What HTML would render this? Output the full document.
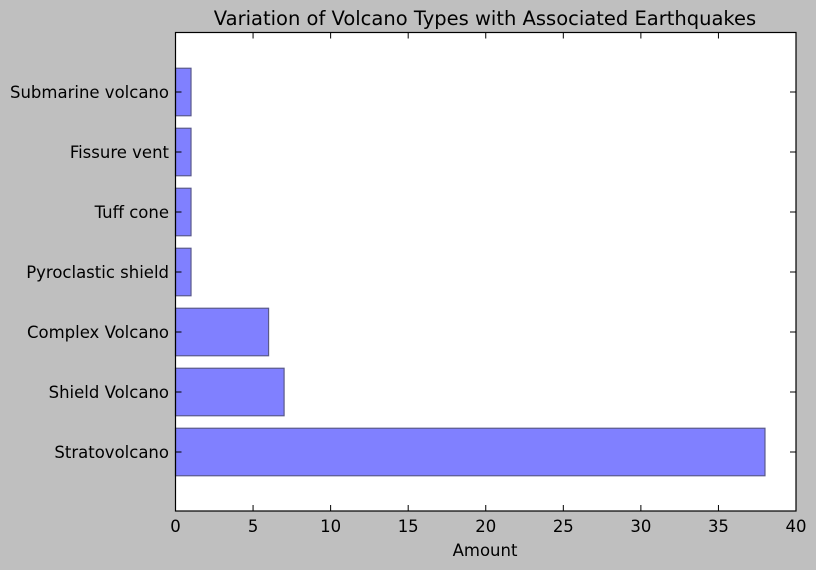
<!DOCTYPE html>
<html><head><meta charset="utf-8">
<style>
body{margin:0;background:#bfbfbf;}
svg{display:block;font-family:"DejaVu Sans","Liberation Sans",sans-serif;}
</style></head>
<body>
<svg id="chart" width="816" height="570" xmlns="http://www.w3.org/2000/svg">
<rect x="0" y="0" width="816" height="570" fill="#bfbfbf"/>
<rect x="175.5" y="32.5" width="620.5" height="478.5" fill="#ffffff"/>
<g id="bars"></g>
<g id="ticks"></g>
<rect x="175.5" y="32.5" width="620.5" height="478.5" fill="none" stroke="#000" stroke-width="1.2"/>
<text x="485" y="25" text-anchor="middle" font-size="19.5" fill="#000">Variation of Volcano Types with Associated Earthquakes</text>
<text x="485" y="556" text-anchor="middle" font-size="16.5" fill="#000">Amount</text>
</svg>
<script>
const categories = ["Stratovolcano","Shield Volcano","Complex Volcano","Pyroclastic shield","Tuff cone","Fissure vent","Submarine volcano"];
const amounts = [38,7,6,1,1,1,1];
const xTicks = [0,5,10,15,20,25,30,35,40];

const X0=175.5, X1=796, XMAX=40;
const x = v => X0 + (X1-X0)*v/XMAX;
const yc = i => 452 - 60*i;
const BH = 47.5;
const NS="http://www.w3.org/2000/svg";
const bars=document.getElementById('bars');
const ticks=document.getElementById('ticks');
function mk(tag,attrs,parent){const e=document.createElementNS(NS,tag);for(const k in attrs)e.setAttribute(k,attrs[k]);parent.appendChild(e);return e;}

categories.forEach((c,i)=>{
  const r=mk('rect',{x:x(0),y:yc(i)-BH/2,width:x(amounts[i])-x(0),height:BH,fill:'#8080ff',stroke:'#5a5a8a','stroke-width':1.2},bars);
  
  
  const t1=mk('line',{x1:X0,x2:X0+6,y1:yc(i),y2:yc(i),stroke:'#000'},ticks);
  
  
  const t2=mk('line',{x1:X1,x2:X1-6,y1:yc(i),y2:yc(i),stroke:'#000'},ticks);
  
  
  const l=mk('text',{x:169,y:yc(i)+6,'text-anchor':'end','font-size':16.5,fill:'#000'},ticks);
  l.textContent=c;
  
  
});
xTicks.forEach(v=>{
  const a=mk('line',{x1:x(v),x2:x(v),y1:511,y2:505,stroke:'#000'},ticks);
  
  
  const b=mk('line',{x1:x(v),x2:x(v),y1:32.5,y2:38.5,stroke:'#000'},ticks);
  
  
  const l=mk('text',{x:x(v),y:532,'text-anchor':'middle','font-size':16.5,fill:'#000'},ticks);
  l.textContent=v;
  
  
});
</script>
</body></html>
